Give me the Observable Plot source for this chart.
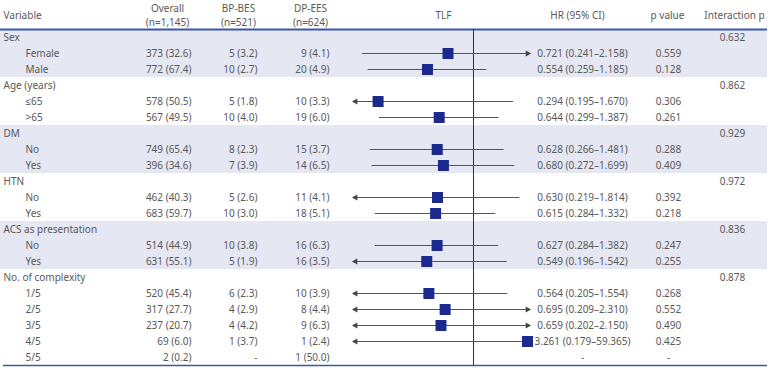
<!DOCTYPE html>
<html>
<head>
<meta charset="utf-8">
<script src="https://cdn.jsdelivr.net/npm/d3@7"></script>
<script src="https://cdn.jsdelivr.net/npm/@observablehq/plot@0.6"></script>
<style>
  body { margin: 0; background: #fff; }
</style>
</head>
<body>
<div id="chart"></div>
<script>
// Subgroup analysis of target lesion failure (TLF): BP-BES vs DP-EES
const groups = ["Sex", "Age (years)", "DM", "HTN", "ACS as presentation", "No. of complexity"];
const interactionP = ["0.632", "0.862", "0.929", "0.972", "0.836", "0.878"];
const subgroups = [
  ["Female", "Male"],
  ["≤65", ">65"],
  ["No", "Yes"],
  ["No", "Yes"],
  ["No", "Yes"],
  ["1/5", "2/5", "3/5", "4/5", "5/5"]
];
const overall = ["373 (32.6)", "772 (67.4)", "578 (50.5)", "567 (49.5)", "749 (65.4)", "396 (34.6)",
  "462 (40.3)", "683 (59.7)", "514 (44.9)", "631 (55.1)", "520 (45.4)", "317 (27.7)", "237 (20.7)",
  "69 (6.0)", "2 (0.2)"];
const bpBes = ["5 (3.2)", "10 (2.7)", "5 (1.8)", "10 (4.0)", "8 (2.3)", "7 (3.9)", "5 (2.6)", "10 (3.0)",
  "10 (3.8)", "5 (1.9)", "6 (2.3)", "4 (2.9)", "4 (4.2)", "1 (3.7)", "-"];
const dpEes = ["9 (4.1)", "20 (4.9)", "10 (3.3)", "19 (6.0)", "15 (3.7)", "14 (6.5)", "11 (4.1)", "18 (5.1)",
  "16 (6.3)", "16 (3.5)", "10 (3.9)", "8 (4.4)", "9 (6.3)", "1 (2.4)", "1 (50.0)"];
const hr = [0.721, 0.554, 0.294, 0.644, 0.628, 0.680, 0.630, 0.615, 0.627, 0.549, 0.564, 0.695, 0.659, 3.261, null];
const ciLow = [0.241, 0.259, 0.195, 0.299, 0.266, 0.272, 0.219, 0.284, 0.284, 0.196, 0.205, 0.209, 0.202, 0.179, null];
const ciHigh = [2.158, 1.185, 1.670, 1.387, 1.481, 1.699, 1.814, 1.332, 1.382, 1.542, 1.554, 2.310, 2.150, 59.365, null];
const pValue = ["0.559", "0.128", "0.306", "0.261", "0.288", "0.409", "0.392", "0.218", "0.247", "0.255",
  "0.268", "0.552", "0.490", "0.425", "-"];
const headers = [
  {text: "Variable", at: 3, anchor: "start"},
  {text: "Overall\n(n=1,145)", at: 167, anchor: "middle"},
  {text: "BP-BES\n(n=521)", at: 238, anchor: "middle"},
  {text: "DP-EES\n(n=624)", at: 310, anchor: "middle"},
  {text: "TLF", at: 443, anchor: "middle"},
  {text: "HR (95% CI)", at: 577, anchor: "middle"},
  {text: "p value", at: 667, anchor: "middle"},
  {text: "Interaction p", at: 734, anchor: "middle"}
];

// Forest plot x range (HR, log scale); CIs beyond it end in arrows
const xDomain = [0.22, 2.0];

const fmt = v => v.toFixed(3);
const rows = [];
const bands = [];
let idx = 0, k = 0;
groups.forEach((g, gi) => {
  const start = idx;
  rows.push({row: idx++, kind: "group", label: g, interaction: interactionP[gi]});
  subgroups[gi].forEach(s => {
    rows.push({
      row: idx++, kind: "sub", label: s,
      overall: overall[k], bp: bpBes[k], dp: dpEes[k],
      hr: hr[k], lo: ciLow[k], hi: ciHigh[k], p: pValue[k],
      hrText: hr[k] == null ? "-" : `${fmt(hr[k])} (${fmt(ciLow[k])}–${fmt(ciHigh[k])})`
    });
    k++;
  });
  bands.push({group: gi, y1: start - 0.5, y2: idx - 0.5});
});
const nRows = idx;
const groupRows = rows.filter(d => d.kind === "group");
const subRows = rows.filter(d => d.kind === "sub");
const est = subRows.filter(d => d.hr != null);

const W = 773, H = 371;
const mL = 355, mR = 246, mT = 29, mB = 6;
const ink = "#595959";
const navy = "#1b2a8c";
const blue = "#3d57a8";
const at = x => x - mL; // column offset from the plot frame's left edge
const tableRight = 767;

const chart = Plot.plot({
  width: W,
  height: H,
  marginLeft: mL,
  marginRight: mR,
  marginTop: mT,
  marginBottom: mB,
  style: {fontFamily: "'Noto Sans', sans-serif", fontSize: "10px", color: ink, background: "#fff"},
  x: {type: "log", domain: xDomain, clamp: true, axis: null},
  y: {domain: [-0.5, nRows - 0.5], reverse: true, axis: null},
  marks: [
    // shaded bands for alternate variable groups
    Plot.rect(bands.filter(b => b.group % 2 === 0), {
      y1: "y1", y2: "y2", fill: "#e5e7f2",
      insetLeft: -mL, insetRight: -(tableRight - (W - mR))
    }),
    Plot.ruleY([-0.5], {stroke: blue, strokeWidth: 2, insetLeft: -mL, insetRight: -(tableRight - (W - mR))}),
    Plot.ruleY([nRows - 0.5], {stroke: blue, strokeWidth: 1.5, insetLeft: -mL + 3, insetRight: -(tableRight - (W - mR))}),
    // line of no effect
    Plot.ruleX([1], {stroke: "#333", strokeWidth: 1}),
    // confidence intervals
    Plot.ruleY(est, {y: "row", x1: "lo", x2: "hi", stroke: "#555", strokeWidth: 1}),
    Plot.dot(est.filter(d => d.lo < xDomain[0]), {
      x: "lo", y: "row", symbol: "triangle", rotate: -90, r: 2.3, fill: "#444", stroke: "none"
    }),
    Plot.dot(est.filter(d => d.hi > xDomain[1]), {
      x: "hi", y: "row", symbol: "triangle", rotate: 90, r: 2.3, fill: "#444", stroke: "none"
    }),
    // hazard ratio estimates
    Plot.dot(est, {x: "hr", y: "row", symbol: "square", r: 6.2, fill: navy, stroke: "none"}),
    // column headers
    ...headers.map(h =>
      Plot.text([h], {
        text: "text", frameAnchor: "top-left", dx: at(h.at), dy: -15,
        lineHeight: 1.4, textAnchor: h.anchor, lineAnchor: "middle", fill: ink
      })
    ),
    // table body
    Plot.text(groupRows, {y: "row", text: "label", frameAnchor: "left", dx: at(3), textAnchor: "start", fill: ink}),
    Plot.text(groupRows, {y: "row", text: "interaction", frameAnchor: "left", dx: at(732), textAnchor: "middle", fill: ink}),
    Plot.text(subRows, {y: "row", text: "label", frameAnchor: "left", dx: at(25), textAnchor: "start", fill: ink}),
    Plot.text(subRows, {y: "row", text: "overall", frameAnchor: "left", dx: at(191), textAnchor: "end", fill: ink}),
    Plot.text(subRows, {y: "row", text: "bp", frameAnchor: "left", dx: at(257), textAnchor: "end", fill: ink}),
    Plot.text(subRows, {y: "row", text: "dp", frameAnchor: "left", dx: at(329), textAnchor: "end", fill: ink}),
    Plot.text(subRows, {y: "row", text: "hrText", frameAnchor: "left", dx: at(582), textAnchor: "middle", fill: ink}),
    Plot.text(subRows, {y: "row", text: "p", frameAnchor: "left", dx: at(668), textAnchor: "middle", fill: ink})
  ]
});
document.getElementById("chart").append(chart);
</script>
</body>
</html>
